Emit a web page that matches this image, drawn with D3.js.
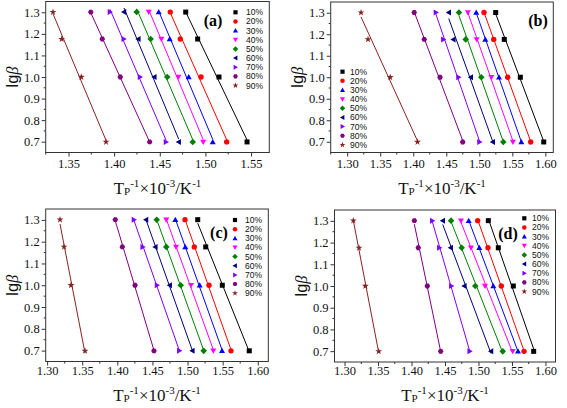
<!DOCTYPE html>
<html><head><meta charset="utf-8">
<script src="https://cdn.jsdelivr.net/npm/d3@7"></script>
<style>body{margin:0;background:#fff}svg{display:block}</style>
</head><body><svg id="chart" width="567" height="408"></svg>
<script>
// ---------- data ----------
const seriesNames = ["10%","20%","30%","40%","50%","60%","70%","80%","90%"];
const seriesColors = ["#000000","#ff0000","#0000ff","#ff00ff","#008000","#000080","#8000ff","#800080","#882222"];
const seriesMarkers = ["square","circle","triUp","triDown","diamond","triLeft","triRight","hexagon","star"];
const lgBeta = [1.301, 1.176, 1.0, 0.699];   // lg of 20, 15, 10, 5 K/min

// x = Tp^-1 x 10^-3 (K^-1), one row per conversion, in lgBeta order
const panelA = [
  [1.4784,1.4915,1.5149,1.5456],
  [1.4615,1.4725,1.4952,1.5233],
  [1.4488,1.4609,1.4817,1.5080],
  [1.4379,1.4517,1.4704,1.4976],
  [1.4247,1.4400,1.4582,1.4861],
  [1.4108,1.4265,1.4440,1.4707],
  [1.3954,1.4105,1.4283,1.4568],
  [1.3744,1.3870,1.4067,1.4389],
  [1.3330,1.3425,1.3640,1.3911]
];
const panelB = [
  [1.5248,1.5378,1.5621,1.5975],
  [1.5071,1.5218,1.5430,1.5778],
  [1.4953,1.5091,1.5298,1.5636],
  [1.4827,1.4960,1.5182,1.5509],
  [1.4692,1.4794,1.5030,1.5363],
  [1.4537,1.4606,1.4870,1.5203],
  [1.4343,1.4455,1.4685,1.5003],
  [1.4014,1.4166,1.4405,1.4748],
  [1.3209,1.3315,1.3651,1.4064]
];
const panelC = [
  [1.5145,1.5259,1.5495,1.5879],
  [1.4964,1.5096,1.5306,1.5619],
  [1.4826,1.4968,1.5173,1.5491],
  [1.4697,1.4836,1.5049,1.5367],
  [1.4561,1.4697,1.4903,1.5230],
  [1.4408,1.4541,1.4746,1.5068],
  [1.4237,1.4361,1.4565,1.4883],
  [1.3971,1.4071,1.4252,1.4522],
  [1.3184,1.3241,1.3340,1.3540]
];
const panelD = [
  [1.5147,1.5296,1.5520,1.5824],
  [1.4988,1.5142,1.5341,1.5680],
  [1.4854,1.5012,1.5221,1.5590],
  [1.4739,1.4888,1.5097,1.5511],
  [1.4590,1.4749,1.4952,1.5362],
  [1.4466,1.4585,1.4788,1.5187],
  [1.4310,1.4415,1.4594,1.4869],
  [1.4042,1.4101,1.4236,1.4436],
  [1.3131,1.3216,1.3310,1.3510]
];
const yTickValues = [0.7,0.8,0.9,1.0,1.1,1.2,1.3];
const xTicksA = [1.35,1.40,1.45,1.50,1.55];
const xTicksBCD = [1.30,1.35,1.40,1.45,1.50,1.55,1.60];
const panelLabels = ["(a)","(b)","(c)","(d)"];

// ---------- layout ----------
const panels = [
  {data:panelA, label:panelLabels[0], xt:xTicksA, l:45.7, r:269.3, t:1.5, b:152.5, xd:[1.325,1.57],
   lab:[213,21], leg:[235.5,246,12.3], titleY:194, tickY:168},
  {data:panelB, label:panelLabels[1], xt:xTicksBCD, l:330.7, r:553.3, t:2, b:152.5, xd:[1.275,1.612],
   lab:[538,21], leg:[342.5,350,71.7], titleY:194, tickY:168},
  {data:panelC, label:panelLabels[2], xt:xTicksBCD, l:45.7, r:268.3, t:209, b:361.5, xd:[1.298,1.615],
   lab:[219,233], leg:[235,245,220], titleY:401, tickY:375},
  {data:panelD, label:panelLabels[3], xt:xTicksBCD, l:334.5, r:555.5, t:210, b:362, xd:[1.285,1.615],
   lab:[508,234], leg:[524.3,532,218.3], titleY:401, tickY:375}
];
const yDomain = [0.65,1.35];
const legendStep = 9.15;

const svg = d3.select("#chart");
const serif = "'Liberation Serif','Times New Roman',serif";
const sans = "'Liberation Sans',Arial,sans-serif";

function markerPath(kind, s){
  const tri = (rot)=>{
    const h=s*1.0, w=s*0.6;
    let pts=[[0,-h*0.6],[w,h*0.45],[-w,h*0.45]];
    const a=rot*Math.PI/180;
    pts=pts.map(([x,y])=>[x*Math.cos(a)-y*Math.sin(a), x*Math.sin(a)+y*Math.cos(a)]);
    return "M"+pts.map(p=>p.join(",")).join("L")+"Z";
  };
  switch(kind){
    case "square": return `M${-s/2},${-s/2}h${s}v${s}h${-s}Z`;
    case "circle": return d3.symbol(d3.symbolCircle, s*s*0.9)();
    case "triUp": return tri(0);
    case "triDown": return tri(180);
    case "triLeft": return tri(-90);
    case "triRight": return tri(90);
    case "diamond": {const d=s*0.66; return `M0,${-d}L${d},0L0,${d}L${-d},0Z`;}
    case "hexagon": {const r=s*0.56; let p=[]; for(let i=0;i<6;i++){const a=Math.PI/3*i; p.push([r*Math.cos(a),r*Math.sin(a)]);} return "M"+p.map(q=>q.join(",")).join("L")+"Z";}
    case "star": return d3.symbol(d3.symbolStar, s*s*0.6)();
  }
}

panels.forEach(P=>{
  const x = d3.scaleLinear().domain(P.xd).range([P.l,P.r]);
  const y = d3.scaleLinear().domain(yDomain).range([P.b,P.t]);
  const g = svg.append("g");

  // axes (outward ticks)
  const yAxis = d3.axisLeft(y).tickValues(yTickValues).tickFormat(d3.format(".1f")).tickSize(4).tickPadding(2);
  const ya = g.append("g").attr("transform",`translate(${P.l},0)`).call(yAxis);
  ya.select(".domain").remove();
  ya.selectAll("line").attr("stroke","#333");
  ya.selectAll("text").attr("font-family",serif).attr("font-size",12.5).attr("fill","#111");
  const yMinor = d3.range(0.75,1.31,0.1);
  g.append("g").selectAll("line").data(yMinor).join("line")
    .attr("x1",P.l-2).attr("x2",P.l).attr("y1",d=>y(d)).attr("y2",d=>y(d)).attr("stroke","#333");

  const xAxis = d3.axisBottom(x).tickValues(P.xt).tickFormat(d3.format(".2f")).tickSize(4).tickPadding(3);
  const xa = g.append("g").attr("transform",`translate(0,${P.b})`).call(xAxis);
  xa.select(".domain").remove();
  xa.selectAll("line").attr("stroke","#333");
  xa.selectAll("text").attr("font-family",serif).attr("font-size",12.5).attr("fill","#111")
    .attr("dy",null).attr("y",P.tickY-P.b);
  const xMinor = d3.range(P.xt[0]-0.025,P.xt[P.xt.length-1]+0.03,0.05).filter(v=>v>P.xd[0]&&v<P.xd[1]);
  g.append("g").selectAll("line").data(xMinor).join("line")
    .attr("y1",P.b).attr("y2",P.b+2).attr("x1",d=>x(d)).attr("x2",d=>x(d)).attr("stroke","#333");

  // frame
  g.append("rect").attr("x",P.l).attr("y",P.t).attr("width",P.r-P.l).attr("height",P.b-P.t)
    .attr("fill","none").attr("stroke","#333").attr("stroke-width",1);

  // fit lines + markers
  P.data.forEach((xs,i)=>{
    const pts = xs.map((v,j)=>[v,lgBeta[j]]);
    const mx=d3.mean(pts,p=>p[0]), my=d3.mean(pts,p=>p[1]);
    const slope = d3.sum(pts,p=>(p[0]-mx)*(p[1]-my))/d3.sum(pts,p=>(p[0]-mx)**2);
    const icpt = my-slope*mx;
    const xr = d3.extent(xs);
    g.append("line").attr("x1",x(xr[0])).attr("y1",y(slope*xr[0]+icpt))
      .attr("x2",x(xr[1])).attr("y2",y(slope*xr[1]+icpt))
      .attr("stroke",seriesColors[i]).attr("stroke-width",1);
    g.append("g").selectAll("path").data(pts).join("path")
      .attr("transform",p=>`translate(${x(p[0])},${y(p[1])})`)
      .attr("d",markerPath(seriesMarkers[i],5)).attr("fill",seriesColors[i]);
  });

  // legend
  const lg = g.append("g");
  seriesNames.forEach((nm,i)=>{
    const yy = P.leg[2]+i*legendStep;
    lg.append("path").attr("transform",`translate(${P.leg[0]},${yy})`)
      .attr("d",markerPath(seriesMarkers[i],4.2)).attr("fill",seriesColors[i]);
    lg.append("text").attr("x",P.leg[1]).attr("y",yy+3).attr("font-family",sans)
      .attr("font-size",8.5).attr("fill","#111").text(nm);
  });

  // panel label
  g.append("text").attr("x",P.lab[0]).attr("y",P.lab[1]+5).attr("text-anchor","middle")
    .attr("font-family",serif).attr("font-weight","bold").attr("font-size",16).text(P.label);

  // y title
  const cy=(P.t+P.b)/2, cx=P.l-28;
  const yt = g.append("text").attr("transform",`translate(${cx},${cy}) rotate(-90)`)
    .attr("text-anchor","middle").attr("font-size",16.5).attr("fill","#111");
  yt.append("tspan").attr("font-family",sans).text("lg");
  yt.append("tspan").attr("font-family",serif).attr("font-style","italic").text("β");

  // x title
  const xt = g.append("text").attr("x",(P.l+P.r)/2).attr("y",P.titleY).attr("text-anchor","middle")
    .attr("font-family",serif).attr("font-size",17).attr("fill","#111");
  xt.append("tspan").text("T");
  xt.append("tspan").attr("font-size",11).attr("dy",1).text("P");
  xt.append("tspan").attr("font-size",11).attr("dy",-8).text("-1");
  xt.append("tspan").attr("dy",7).text("×10");
  xt.append("tspan").attr("font-size",11).attr("dy",-7).text("-3");
  xt.append("tspan").attr("dy",7).text("/K");
  xt.append("tspan").attr("font-size",11).attr("dy",-7).text("-1");
});
</script></body></html>
